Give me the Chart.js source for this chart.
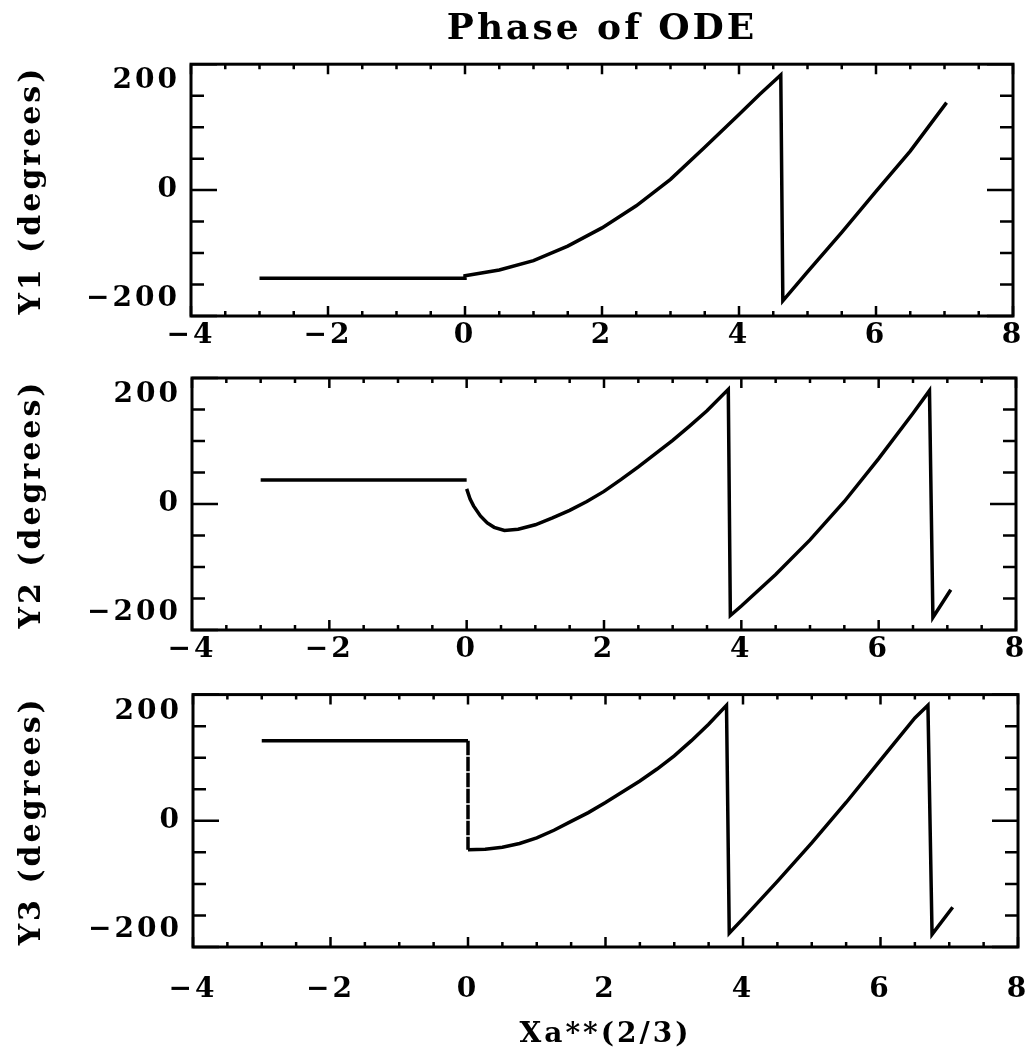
<!DOCTYPE html>
<html>
<head>
<meta charset="utf-8">
<title>Phase of ODE</title>
<script src="https://cdn.jsdelivr.net/npm/chart.js@4.4.1/dist/chart.umd.min.js"></script>
<style>
    body { margin: 0; background: #fff; }
    canvas { position: absolute; left: 0; }
</style>
</head>
<body>
<canvas id="c1" width="1033" height="400" style="top:0px"></canvas>
<canvas id="c2" width="1033" height="370" style="top:330px"></canvas>
<canvas id="c3" width="1033" height="407" style="top:650px"></canvas>
<script>
// --- data ---
const xTickValues = [-4, -2, 0, 2, 4, 6, 8];
const yTickValues = [-200, 0, 200];
const xMinorStep = 0.5;
const yMinorStep = 50;

// Y1: flat part, then the rising phase with one wrap
const y1X = [-3, 0, 0, 0.5, 1.0, 1.5, 2.0, 2.5, 3.0, 3.5, 4.0, 4.3, 4.61, 4.64, 5.0, 5.5, 6.0, 6.5, 7.03];
const y1Y = [-140, -140, -136, -127, -112, -89, -60, -25, 17, 68, 120, 152, 183, -176, -130, -67, -2, 62, 139];

// Y2: flat part, gap at 0, dip and two wraps
const y2X = [-3, 0, 0, 0, 0.05, 0.1, 0.2, 0.3, 0.4, 0.55, 0.75, 1.0, 1.25, 1.5, 1.75, 2.0, 2.25, 2.5, 2.75, 3.0, 3.25, 3.5, 3.81, 3.84, 4.0, 4.5, 5.0, 5.5, 6.0, 6.5, 6.74, 6.79, 7.05];
const y2Y = [38, 38, null, 24, 8, -3, -19, -30, -37, -42, -40, -33, -22, -10, 4, 20, 39, 59, 80, 101, 124, 148, 182, -177, -162, -112, -57, 4, 72, 144, 180, -180, -136];

// Y3: flat part, dashed jump at 0, then two wraps
const y3X = [-3, 0, 0, 0.25, 0.5, 0.75, 1.0, 1.25, 1.5, 1.75, 2.0, 2.25, 2.5, 2.75, 3.0, 3.25, 3.5, 3.76, 3.8, 4.0, 4.5, 5.0, 5.5, 6.0, 6.5, 6.69, 6.75, 7.05];
const y3Y = [127, 127, -46, -45, -42, -36, -27, -15, -1, 13, 29, 46, 63, 82, 103, 127, 153, 183, -178, -155, -96, -35, 29, 96, 163, 183, -180, -137];

const FONT = "'DejaVu Serif', serif";
Chart.defaults.font.family = FONT;
Chart.defaults.font.weight = 'bold';
Chart.defaults.color = '#000';

// wider text like the old plot fonts
Chart.register({
    id: 'spacing',
    beforeDraw(chart) { chart.ctx.letterSpacing = '3px'; }
});

// box with inward ticks on all four sides
const frameTicks = {
    id: 'frameTicks',
    afterDatasetsDraw(chart) {
        const { ctx, chartArea: a, scales: { x, y } } = chart;
        ctx.save();
        ctx.strokeStyle = '#000';
        ctx.lineWidth = 3;
        ctx.strokeRect(a.left, a.top, a.right - a.left, a.bottom - a.top);
        ctx.lineWidth = 2.5;
        ctx.beginPath();
        for (let v = x.min; v <= x.max + 1e-9; v += xMinorStep) {
            const px = x.getPixelForValue(v);
            const len = xTickValues.includes(v) ? 10 : 5;
            ctx.moveTo(px, a.bottom); ctx.lineTo(px, a.bottom - len);
            ctx.moveTo(px, a.top); ctx.lineTo(px, a.top + len);
        }
        for (let v = y.min; v <= y.max + 1e-9; v += yMinorStep) {
            const py = y.getPixelForValue(v);
            const len = yTickValues.includes(v) ? 26 : 13;
            ctx.moveTo(a.left, py); ctx.lineTo(a.left + len, py);
            ctx.moveTo(a.right, py); ctx.lineTo(a.right - len, py);
        }
        ctx.stroke();
        ctx.restore();
    }
};

function fmt(v) { return String(v).replace('-', '\u2212'); }

// end labels of the y axis sit just inside the box, as in the old plot
function yLabel(v) {
    if (v === 200) return ['', fmt(v)];
    if (v === -200) return [fmt(v), ''];
    return fmt(v);
}

function makePanel(id, xs, ys, opts) {
    const points = xs.map((x, i) => ({ x: x, y: ys[i] }));
    const canvas = document.getElementById(id);
    return new Chart(canvas, {
        type: 'line',
        data: {
            datasets: [{
                data: points,
                borderColor: '#000',
                borderWidth: 3.5,
                pointRadius: 0,
                tension: 0,
                spanGaps: false,
                segment: {
                    // the jump at x=0 in Y3 is dashed
                    borderDash: ctx => (opts.dashJump && ctx.p0.parsed.x === 0 && ctx.p1.parsed.x === 0) ? [9, 7] : undefined
                }
            }]
        },
        options: {
            responsive: false,
            animation: false,
            events: [],
            layout: { padding: { top: opts.padTop, right: opts.padRight, bottom: 0, left: 0 } },
            plugins: {
                legend: { display: false },
                tooltip: { enabled: false },
                title: opts.title ? {
                    display: true,
                    text: opts.title,
                    fullSize: false,
                    font: { size: 36, weight: 'bold', family: FONT },
                    padding: { top: 8, bottom: 13 }
                } : { display: false }
            },
            scales: {
                x: {
                    type: 'linear',
                    min: -4, max: 8,
                    grid: { display: false, drawTicks: false },
                    border: { display: false },
                    afterBuildTicks: s => { s.ticks = xTickValues.map(v => ({ value: v })); },
                    afterFit: s => { s.height = opts.xHeight; },
                    ticks: {
                        autoSkip: false, maxRotation: 0,
                        padding: 4,
                        font: { size: 28, lineHeight: opts.xLabelLH },
                        callback: v => fmt(v)
                    },
                    title: opts.xTitle ? {
                        display: true,
                        text: opts.xTitle,
                        font: { size: 28 },
                        padding: { top: 0, bottom: 5 }
                    } : { display: false }
                },
                y: {
                    type: 'linear',
                    min: -200, max: 200,
                    grid: { display: false, drawTicks: false },
                    border: { display: false },
                    afterBuildTicks: s => { s.ticks = yTickValues.map(v => ({ value: v })); },
                    afterFit: s => { s.width = opts.left; },
                    ticks: {
                        padding: 11,
                        font: { size: 28 },
                        callback: v => yLabel(v)
                    },
                    title: {
                        display: true,
                        text: opts.yTitle,
                        font: { size: 30 },
                        padding: { top: 14, bottom: 0 }
                    }
                }
            }
        },
        plugins: [frameTicks]
    });
}

makePanel('c1', y1X, y1Y, {
    title: 'Phase of ODE', yTitle: 'Y1 (degrees)',
    padTop: 0, padRight: 20, left: 191, xHeight: 84, xLabelLH: 1.15
});
makePanel('c2', y2X, y2Y, {
    yTitle: 'Y2 (degrees)',
    padTop: 48, padRight: 17, left: 192, xHeight: 70, xLabelLH: 1.15
});
makePanel('c3', y3X, y3Y, {
    yTitle: 'Y3 (degrees)', xTitle: 'Xa**(2/3)', dashJump: true,
    padTop: 44, padRight: 15, left: 193, xHeight: 110, xLabelLH: 2.8
});
</script>
</body>
</html>
